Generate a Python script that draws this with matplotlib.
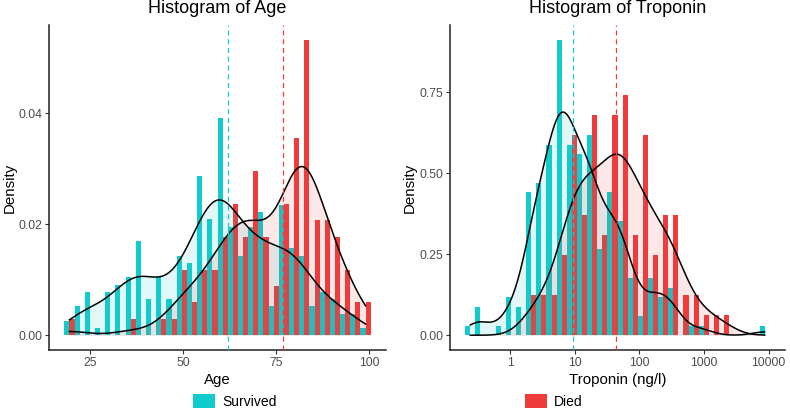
import numpy as np
import matplotlib
matplotlib.use("Agg")
import matplotlib.pyplot as plt
from matplotlib.patches import Rectangle
from matplotlib.ticker import NullLocator

plt.rcParams['font.family'] = ['Liberation Sans', 'DejaVu Sans']

# -------------------------
# Data (patients per bin)
# -------------------------
groups = ["Survived", "Died"]
colors = ["#12CBCC", "#EF3B3B"]

# Age: 30 bins, first and last bin centre
age_range = (19.4, 99.1)
age_survived = [2, 4, 6, 1, 6, 7, 8, 13, 5, 8, 5, 11, 10, 22, 16,
                30, 15, 11, 15, 17, 4, 18, 12, 11, 4, 6, 5, 3, 3, 1]
age_died = [1, 0, 0, 0, 0, 0, 1, 0, 0, 1, 1, 4, 2, 4, 4,
            6, 8, 6, 10, 6, 3, 8, 12, 18, 7, 7, 6, 4, 2, 2]
age_means = [62.2, 77.0]

# Troponin: 30 bins on log10(ng/l)
trop_range = (-0.621, 3.94)
trop_survived = [1, 3, 0, 1, 4, 3, 15, 16, 20, 31, 20, 19, 21, 9, 15,
                 12, 6, 2, 6, 4, 5, 0, 1, 1, 0, 0, 0, 0, 0, 1]
trop_died = [0, 0, 0, 0, 0, 0, 2, 2, 2, 4, 10, 6, 11, 5, 11,
             12, 5, 10, 4, 6, 6, 2, 2, 1, 1, 1, 0, 0, 0, 0]
trop_means = [9.5, 44.0]

W, H = 790, 408


def fx(px):
    return px / W


def fy(py):
    return 1 - py / H


def kde(centres, counts, grid):
    data = np.repeat(centres, counts)
    n = len(data)
    sd = data.std(ddof=1)
    q1, q3 = np.percentile(data, [25, 75])
    bw = 0.9 * min(sd, (q3 - q1) / 1.34) * n ** -0.2
    z = (grid[:, None] - data[None, :]) / bw
    return np.exp(-0.5 * z ** 2).sum(axis=1) / (n * bw * np.sqrt(2 * np.pi))


def panel(ax, counts_list, lo, hi, means, log=False):
    nb = len(counts_list[0])
    w = (hi - lo) / (nb - 1)
    centres = lo + w * np.arange(nb)
    grid = np.linspace(lo, hi, 512)
    tr = (lambda v: 10 ** v) if log else (lambda v: v)

    ymax = 0
    # histogram, dodged
    for i, counts in enumerate(counts_list):
        counts = np.asarray(counts)
        dens = counts / (counts.sum() * w)
        ymax = max(ymax, dens.max())
        left = centres - w / 2 + i * w / 2
        right = left + w / 2
        ax.bar(tr(left), dens, width=tr(right) - tr(left), align='edge',
               color=colors[i], linewidth=0, zorder=1)

    # density curves
    for i, counts in enumerate(counts_list):
        d = kde(centres, np.asarray(counts), grid)
        ax.fill_between(tr(grid), d, 0, color=colors[i], alpha=0.12,
                        linewidth=0, zorder=2)
        ax.plot(tr(grid), d, color='black', lw=1.1, zorder=3)

    # mean lines
    for i, m in enumerate(means):
        ax.axvline(m, color=colors[i], lw=0.9, ls=(0, (4, 3)), zorder=4)

    x0, x1 = lo - w / 2, hi + w / 2
    pad = 0.05 * (x1 - x0)
    ax.set_xlim(tr(x0 - pad), tr(x1 + pad))
    ax.set_ylim(-0.05 * ymax, 1.05 * ymax)

    for s in ['top', 'right']:
        ax.spines[s].set_visible(False)
    for s in ['left', 'bottom']:
        ax.spines[s].set_linewidth(1.1)
        ax.spines[s].set_color('#222222')
    ax.tick_params(length=3, width=0.8, color='#333333', labelcolor='#4D4D4D',
                   labelsize=8.8, pad=2)


fig = plt.figure(figsize=(W / 100, H / 100), dpi=100)

ax1 = fig.add_axes([fx(49), fy(350), fx(386 - 49), (350 - 25) / H])
panel(ax1, [age_survived, age_died], age_range[0], age_range[1], age_means)
ax1.set_xticks([25, 50, 75, 100])
ax1.set_yticks([0, 0.02, 0.04])
ax1.set_yticklabels(['0.00', '0.02', '0.04'])

ax2 = fig.add_axes([fx(450), fy(350), fx(785 - 450), (350 - 25) / H])
ax2.set_xscale('log')
panel(ax2, [trop_survived, trop_died], trop_range[0], trop_range[1], trop_means, log=True)
ax2.set_xticks([1, 10, 100, 1000, 10000])
ax2.set_xticklabels(['1', '10', '100', '1000', '10000'])
ax2.xaxis.set_minor_locator(NullLocator())
ax2.set_yticks([0, 0.25, 0.5, 0.75])
ax2.set_yticklabels(['0.00', '0.25', '0.50', '0.75'])

# titles and axis labels
fig.text(fx(217.5), fy(12.7), "Histogram of Age", fontsize=13, ha='center', va='baseline')
fig.text(fx(617.5), fy(12.7), "Histogram of Troponin", fontsize=13, ha='center', va='baseline')
fig.text(fx(217.5), fy(384), "Age", fontsize=10.8, ha='center', va='baseline')
fig.text(fx(617.5), fy(384), "Troponin (ng/l)", fontsize=10.8, ha='center', va='baseline')
fig.text(fx(3), fy(187.5), "Density", fontsize=10.8, rotation=90, ha='left', va='center')
fig.text(fx(403), fy(187.5), "Density", fontsize=10.8, rotation=90, ha='left', va='center')

# legends (one key per panel)
fig.add_artist(Rectangle((fx(193), fy(411.6)), fx(21.5), 17.3 / H,
                         transform=fig.transFigure, color=colors[0], lw=0, clip_on=False))
fig.text(fx(222), fy(406.5), groups[0], fontsize=10, ha='left', va='baseline')
fig.add_artist(Rectangle((fx(525), fy(411.6)), fx(21.5), 17.3 / H,
                         transform=fig.transFigure, color=colors[1], lw=0, clip_on=False))
fig.text(fx(554), fy(406.5), groups[1], fontsize=10, ha='left', va='baseline')

plt.savefig("out.png", dpi=100)
